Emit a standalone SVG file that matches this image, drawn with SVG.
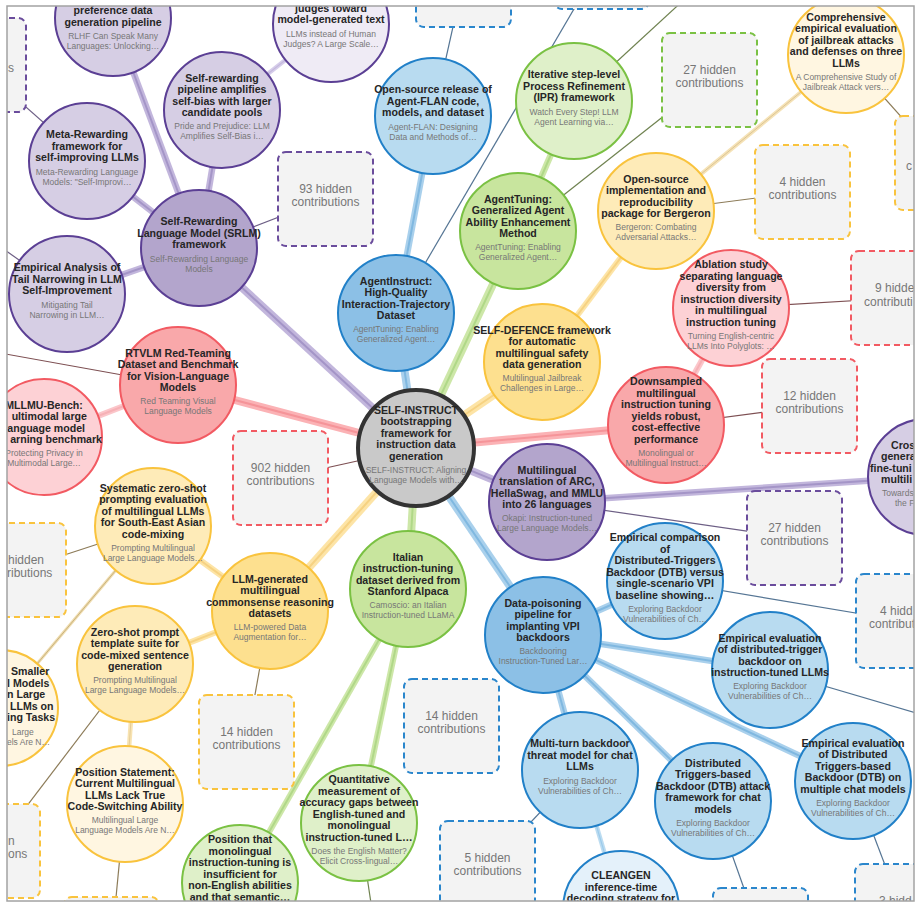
<svg xmlns="http://www.w3.org/2000/svg" width="921" height="909" viewBox="0 0 921 909">
<defs>
<clipPath id="frame"><rect x="7" y="6" width="907" height="895"/></clipPath>
<style>
.t{font-family:'Liberation Sans',Arial,sans-serif;font-weight:bold;font-size:10.6px;fill:#262626;text-anchor:middle}
.s{font-family:'Liberation Sans',Arial,sans-serif;font-size:8.5px;fill:#777;text-anchor:middle}
.h{font-family:'Liberation Sans',Arial,sans-serif;font-size:12px;fill:#777;text-anchor:middle}
.st{text-anchor:start}.en{text-anchor:end}
circle{stroke-width:2}
.c0{fill:#c9c9c9;stroke:#333;stroke-width:4}
.pm{fill:#b3a5cc;stroke:#5b3f94}.pl{fill:#d6cee4;stroke:#5b3f94}.pv{fill:#efebf5;stroke:#5b3f94}
.bm{fill:#8cc0e6;stroke:#2180c8}.bl{fill:#b8dbf0;stroke:#2180c8}.bv{fill:#e4f1fa;stroke:#2180c8}
.gm{fill:#c8e59e;stroke:#7ac143}.gl{fill:#dff0c9;stroke:#7ac143}
.ym{fill:#fde08f;stroke:#f9c33d}.yl{fill:#feebb8;stroke:#f9c33d}.yv{fill:#fff6e1;stroke:#f9c33d}
.rm{fill:#f9a8aa;stroke:#f25a62}.rl{fill:#fdd1d5;stroke:#f25a62}
.box rect{fill:#f3f3f3;stroke-width:2;stroke-dasharray:6 4}
.hp rect{stroke:#6a4c9c}.hb rect{stroke:#2a86cc}.hg rect{stroke:#7ac143}.hy rect{stroke:#f9c33d}.hr rect{stroke:#f25a62}
line{stroke-linecap:butt;fill:none}
.op line{stroke:#c2b6dc}.ip line{stroke:#a495c7;stroke-width:2}
.ob line{stroke:#a9d0ec}.ib line{stroke:#80b8e0;stroke-width:2}
.og line{stroke:#cde7a8}.ig line{stroke:#b0d888;stroke-width:2}
.oy line{stroke:#fde4a6}.iy line{stroke:#f6d282;stroke-width:2}
.or line{stroke:#fbb2b5}.ir line{stroke:#f59499;stroke-width:2}
.thin line{stroke-width:1.2}
.tp line{stroke:#6d5f85}.tb line{stroke:#557594}.tg line{stroke:#6f8250}.ty line{stroke:#8c7b58}.tr line{stroke:#7d4f52}
</style>
</defs>
<rect width="921" height="909" fill="#fff"/>
<g clip-path="url(#frame)">
<g id="connectors">
<g class="op">
<line x1="416" y1="448" x2="199" y2="248" stroke-width="8"/>
<line x1="416" y1="448" x2="547" y2="502" stroke-width="8"/>
<line x1="199" y1="248" x2="113" y2="18" stroke-width="6.5"/>
<line x1="199" y1="248" x2="222" y2="110" stroke-width="6.5"/>
<line x1="199" y1="248" x2="87" y2="161" stroke-width="6.5"/>
<line x1="199" y1="248" x2="67" y2="294" stroke-width="6.5"/>
<line x1="547" y1="502" x2="926" y2="477" stroke-width="6.5"/>
<line x1="222" y1="110" x2="331" y2="24" stroke-width="4.5" style="stroke:#d6cdea"/>
</g>
<g class="ip">
<line x1="416" y1="448" x2="199" y2="248"/>
<line x1="416" y1="448" x2="547" y2="502"/>
<line x1="199" y1="248" x2="113" y2="18"/>
<line x1="199" y1="248" x2="222" y2="110"/>
<line x1="199" y1="248" x2="87" y2="161"/>
<line x1="199" y1="248" x2="67" y2="294"/>
<line x1="547" y1="502" x2="926" y2="477"/>
<line x1="222" y1="110" x2="331" y2="24" style="stroke:#c3b8dc;stroke-width:1.2"/>
</g>
<g class="ob">
<line x1="416" y1="448" x2="396" y2="313" stroke-width="8"/>
<line x1="416" y1="448" x2="543" y2="635" stroke-width="8"/>
<line x1="396" y1="313" x2="433" y2="116" stroke-width="6.5"/>
<line x1="543" y1="635" x2="665" y2="581" stroke-width="6.5"/>
<line x1="543" y1="635" x2="770" y2="670" stroke-width="6.5"/>
<line x1="543" y1="635" x2="853" y2="781" stroke-width="6.5"/>
<line x1="543" y1="635" x2="713" y2="801" stroke-width="6.5"/>
<line x1="543" y1="635" x2="580" y2="770" stroke-width="6.5"/>
<line x1="580" y1="770" x2="621" y2="909" stroke-width="4.5" style="stroke:#bcdcf1"/>
</g>
<g class="ib">
<line x1="416" y1="448" x2="396" y2="313"/>
<line x1="416" y1="448" x2="543" y2="635"/>
<line x1="396" y1="313" x2="433" y2="116"/>
<line x1="543" y1="635" x2="665" y2="581"/>
<line x1="543" y1="635" x2="770" y2="670"/>
<line x1="543" y1="635" x2="853" y2="781"/>
<line x1="543" y1="635" x2="713" y2="801"/>
<line x1="543" y1="635" x2="580" y2="770"/>
<line x1="580" y1="770" x2="621" y2="909" style="stroke:#9ccbeb;stroke-width:1.2"/>
</g>
<g class="og">
<line x1="416" y1="448" x2="518" y2="231" stroke-width="8"/>
<line x1="416" y1="448" x2="408" y2="589" stroke-width="8"/>
<line x1="518" y1="231" x2="574" y2="101" stroke-width="6.5"/>
<line x1="408" y1="589" x2="359" y2="823" stroke-width="6"/>
<line x1="408" y1="589" x2="240" y2="883" stroke-width="6"/>
</g>
<g class="ig">
<line x1="416" y1="448" x2="518" y2="231"/>
<line x1="416" y1="448" x2="408" y2="589"/>
<line x1="518" y1="231" x2="574" y2="101"/>
<line x1="408" y1="589" x2="359" y2="823"/>
<line x1="408" y1="589" x2="240" y2="883"/>
</g>
<g class="oy">
<line x1="416" y1="448" x2="542" y2="362" stroke-width="8"/>
<line x1="416" y1="448" x2="270" y2="611" stroke-width="8"/>
<line x1="542" y1="362" x2="656" y2="211" stroke-width="6"/>
<line x1="270" y1="611" x2="153" y2="526" stroke-width="6"/>
<line x1="270" y1="611" x2="135" y2="664" stroke-width="6"/>
<line x1="656" y1="211" x2="846" y2="55" stroke-width="4" style="stroke:#f5e2b6"/>
<line x1="135" y1="664" x2="125" y2="804" stroke-width="4.5" style="stroke:#f8e3b2"/>
<line x1="153" y1="526" x2="0" y2="708" stroke-width="3" style="stroke:#efdcae"/>
</g>
<g class="iy">
<line x1="416" y1="448" x2="542" y2="362"/>
<line x1="416" y1="448" x2="270" y2="611"/>
<line x1="542" y1="362" x2="656" y2="211"/>
<line x1="270" y1="611" x2="153" y2="526"/>
<line x1="270" y1="611" x2="135" y2="664"/>
<line x1="656" y1="211" x2="846" y2="55" style="stroke:#dcc595;stroke-width:1"/>
<line x1="135" y1="664" x2="125" y2="804" style="stroke:#e4cd98;stroke-width:1"/>
<line x1="153" y1="526" x2="0" y2="708" style="stroke:#c8b27e;stroke-width:1"/>
</g>
<g class="or">
<line x1="416" y1="448" x2="178" y2="385" stroke-width="8"/>
<line x1="416" y1="448" x2="666" y2="425" stroke-width="8"/>
<line x1="178" y1="385" x2="44" y2="437" stroke-width="6" style="stroke:#fbc6ca"/>
<line x1="666" y1="425" x2="731" y2="308" stroke-width="6" style="stroke:#fbc6ca"/>
</g>
<g class="ir">
<line x1="416" y1="448" x2="178" y2="385"/>
<line x1="416" y1="448" x2="666" y2="425"/>
<line x1="178" y1="385" x2="44" y2="437" style="stroke:#f6b1b6"/>
<line x1="666" y1="425" x2="731" y2="308" style="stroke:#f6b1b6"/>
</g>
<g class="thin tp">
<line x1="199" y1="248" x2="325.5" y2="199"/>
<line x1="87" y1="161" x2="-21.5" y2="65"/>
<line x1="67" y1="294" x2="-60" y2="204"/>
<line x1="547" y1="502" x2="794.5" y2="538"/>
</g>
<g class="thin tr">
<line x1="416" y1="448" x2="280.5" y2="478"/>
<line x1="178" y1="385" x2="-100" y2="335"/>
<line x1="731" y1="308" x2="898.5" y2="298"/>
<line x1="666" y1="425" x2="809.5" y2="406"/>
</g>
<g class="thin tb">
<line x1="433" y1="116" x2="463.5" y2="-20"/>
<line x1="396" y1="313" x2="601.5" y2="-38"/>
<line x1="665" y1="581" x2="903.5" y2="621"/>
<line x1="770" y1="670" x2="960" y2="726"/>
<line x1="713" y1="801" x2="760.5" y2="935"/>
<line x1="853" y1="781" x2="902.5" y2="911"/>
<line x1="580" y1="770" x2="487.5" y2="868"/>
</g>
<g class="thin tg">
<line x1="518" y1="231" x2="709.5" y2="80"/>
<line x1="574" y1="101" x2="700" y2="-15"/>
<line x1="359" y1="823" x2="378" y2="950"/>
</g>
<g class="thin ty">
<line x1="656" y1="211" x2="802.5" y2="192"/>
<line x1="846" y1="55" x2="942.5" y2="163"/>
<line x1="153" y1="526" x2="18.5" y2="570"/>
<line x1="270" y1="611" x2="246.5" y2="742"/>
<line x1="135" y1="664" x2="-7.5" y2="851"/>
<line x1="125" y1="804" x2="111.5" y2="944"/>
</g>
</g>

<g id="hidden">
<g id="h1" class="box hp"><rect x="-69" y="18" width="95" height="94" rx="8"/><text class="h st" x="8" y="72">s</text></g>
<g id="h2" class="box hp"><rect x="278" y="152" width="95" height="94" rx="8"/><text class="h" x="325.5" y="193">93 hidden</text><text class="h" x="325.5" y="206">contributions</text></g>
<g id="h3" class="box hb"><rect x="416" y="-67" width="95" height="94" rx="8"/></g>
<g id="h4" class="box hb"><rect x="554" y="-85" width="95" height="94" rx="8"/></g>
<g id="h5" class="box hg"><rect x="662" y="33" width="95" height="94" rx="8"/><text class="h" x="709.5" y="74">27 hidden</text><text class="h" x="709.5" y="87">contributions</text></g>
<g id="h6" class="box hy"><rect x="755" y="145" width="95" height="94" rx="8"/><text class="h" x="802.5" y="186">4 hidden</text><text class="h" x="802.5" y="199">contributions</text></g>
<g id="h7" class="box hy"><rect x="895" y="116" width="95" height="94" rx="8"/><text class="h st" x="906" y="170">c</text></g>
<g id="h8" class="box hr"><rect x="851" y="251" width="95" height="94" rx="8"/><text class="h st" x="875" y="292">9 hidde</text><text class="h st" x="864" y="305.5">contributi</text></g>
<g id="h9" class="box hr"><rect x="762" y="359" width="95" height="94" rx="8"/><text class="h" x="809.5" y="400">12 hidden</text><text class="h" x="809.5" y="413">contributions</text></g>
<g id="h10" class="box hr"><rect x="233" y="431" width="95" height="94" rx="8"/><text class="h" x="280.5" y="472">902 hidden</text><text class="h" x="280.5" y="485">contributions</text></g>
<g id="h11" class="box hp"><rect x="747" y="491" width="95" height="94" rx="8"/><text class="h" x="794.5" y="532">27 hidden</text><text class="h" x="794.5" y="545">contributions</text></g>
<g id="h12" class="box hb"><rect x="856" y="574" width="95" height="94" rx="8"/><text class="h st" x="880" y="615">4 hidd</text><text class="h st" x="869" y="628">contribut</text></g>
<g id="h13" class="box hy"><rect x="-29" y="523" width="95" height="94" rx="8"/><text class="h st" x="8" y="564">hidden</text><text class="h st" x="7" y="577">ributions</text></g>
<g id="h14" class="box hy"><rect x="199" y="695" width="95" height="94" rx="8"/><text class="h" x="246.5" y="736">14 hidden</text><text class="h" x="246.5" y="749">contributions</text></g>
<g id="h15" class="box hy"><rect x="-55" y="804" width="95" height="94" rx="8"/><text class="h st" x="8" y="844.5">n</text><text class="h st" x="8" y="858">ons</text></g>
<g id="h16" class="box hy"><rect x="64" y="897" width="95" height="94" rx="8"/></g>
<g id="h17" class="box hb"><rect x="404" y="679" width="95" height="94" rx="8"/><text class="h" x="451.5" y="720">14 hidden</text><text class="h" x="451.5" y="733">contributions</text></g>
<g id="h18" class="box hb"><rect x="440" y="821" width="95" height="94" rx="8"/><text class="h" x="487.5" y="862">5 hidden</text><text class="h" x="487.5" y="875">contributions</text></g>
<g id="h19" class="box hb"><rect x="713" y="888" width="95" height="94" rx="8"/></g>
<g id="h20" class="box hb"><rect x="855" y="864" width="95" height="94" rx="8"/><text class="h st" x="879" y="905">3 hidd</text></g>
</g>

<g id="n-center" transform="translate(416,448)"><circle r="58" class="c0"/><text class="t" y="-34.2"><tspan x="0">SELF-INSTRUCT</tspan><tspan x="0" dy="11.5">bootstrapping</tspan><tspan x="0" dy="11.5">framework for</tspan><tspan x="0" dy="11.5">instruction data</tspan><tspan x="0" dy="11.5">generation</tspan></text><text class="s" y="25"><tspan x="0">SELF-INSTRUCT: Aligning</tspan><tspan x="0" dy="10">Language Models with…</tspan></text></g>

<g id="n-rlhf" transform="translate(113,18)"><circle r="58" class="pl"/><text class="t" y="-4"><tspan x="0">preference data</tspan><tspan x="0" dy="11.5">generation pipeline</tspan></text><text class="s" y="21"><tspan x="0">RLHF Can Speak Many</tspan><tspan x="0" dy="10">Languages: Unlocking…</tspan></text></g>
<g id="n-judges" transform="translate(331,24)"><circle r="58" class="pv"/><text class="t" y="-12.5"><tspan x="0">judges toward</tspan><tspan x="0" dy="11.5">model-generated text</tspan></text><text class="s" y="12.5"><tspan x="0">LLMs instead of Human</tspan><tspan x="0" dy="10">Judges? A Large Scale…</tspan></text></g>
<g id="n-selfpipe" transform="translate(222,110)"><circle r="58" class="pl"/><text class="t" y="-28.5"><tspan x="0">Self-rewarding</tspan><tspan x="0" dy="11.5">pipeline amplifies</tspan><tspan x="0" dy="11.5">self-bias with larger</tspan><tspan x="0" dy="11.5">candidate pools</tspan></text><text class="s" y="19.2"><tspan x="0">Pride and Prejudice: LLM</tspan><tspan x="0" dy="10">Amplifies Self-Bias i…</tspan></text></g>
<g id="n-meta" transform="translate(87,161)"><circle r="58" class="pl"/><text class="t" y="-22.7"><tspan x="0">Meta-Rewarding</tspan><tspan x="0" dy="11.5">framework for</tspan><tspan x="0" dy="11.5">self-improving LLMs</tspan></text><text class="s" y="13.5"><tspan x="0">Meta-Rewarding Language</tspan><tspan x="0" dy="10">Models: "Self-Improvi…</tspan></text></g>
<g id="n-srlm" transform="translate(199,248)"><circle r="58" class="pm"/><text class="t" y="-22.7"><tspan x="0">Self-Rewarding</tspan><tspan x="0" dy="11.5">Language Model (SRLM)</tspan><tspan x="0" dy="11.5">framework</tspan></text><text class="s" y="13.5"><tspan x="0">Self-Rewarding Language</tspan><tspan x="0" dy="10">Models</tspan></text></g>
<g id="n-tail" transform="translate(67,294)"><circle r="58" class="pl"/><text class="t" y="-22.7"><tspan x="0">Empirical Analysis of</tspan><tspan x="0" dy="11.5">Tail Narrowing in LLM</tspan><tspan x="0" dy="11.5">Self-Improvement</tspan></text><text class="s" y="13.5"><tspan x="0">Mitigating Tail</tspan><tspan x="0" dy="10">Narrowing in LLM…</tspan></text></g>
<g id="n-arc" transform="translate(547,502)"><circle r="58" class="pm"/><text class="t" y="-28.5"><tspan x="0">Multilingual</tspan><tspan x="0" dy="11.5">translation of ARC,</tspan><tspan x="0" dy="11.5">HellaSwag, and MMLU</tspan><tspan x="0" dy="11.5">into 26 languages</tspan></text><text class="s" y="19.2"><tspan x="0">Okapi: Instruction-tuned</tspan><tspan x="0" dy="10">Large Language Models…</tspan></text></g>
<g id="n-cross" transform="translate(926,477)"><circle r="58" class="pl"/><text class="t st" y="-28.5"><tspan x="-35">Cros</tspan><tspan x="-45" dy="11.5">genera</tspan><tspan x="-56" dy="11.5">fine-tuni</tspan><tspan x="-45" dy="11.5">multili</tspan></text><text class="s st" y="19.2"><tspan x="-44">Towards</tspan><tspan x="-31" dy="10">the F</tspan></text></g>

<g id="n-agentflan" transform="translate(433,116)"><circle r="58" class="bl"/><text class="t" y="-22.7"><tspan x="0">Open-source release of</tspan><tspan x="0" dy="11.5">Agent-FLAN code,</tspan><tspan x="0" dy="11.5">models, and dataset</tspan></text><text class="s" y="13.5"><tspan x="0">Agent-FLAN: Designing</tspan><tspan x="0" dy="10">Data and Methods of…</tspan></text></g>
<g id="n-agentinstruct" transform="translate(396,313)"><circle r="58" class="bm"/><text class="t" y="-28.5"><tspan x="0">AgentInstruct:</tspan><tspan x="0" dy="11.5">High-Quality</tspan><tspan x="0" dy="11.5">Interaction-Trajectory</tspan><tspan x="0" dy="11.5">Dataset</tspan></text><text class="s" y="19.2"><tspan x="0">AgentTuning: Enabling</tspan><tspan x="0" dy="10">Generalized Agent…</tspan></text></g>
<g id="n-datapoison" transform="translate(543,635)"><circle r="58" class="bm"/><text class="t" y="-28.5"><tspan x="0">Data-poisoning</tspan><tspan x="0" dy="11.5">pipeline for</tspan><tspan x="0" dy="11.5">implanting VPI</tspan><tspan x="0" dy="11.5">backdoors</tspan></text><text class="s" y="19.2"><tspan x="0">Backdooring</tspan><tspan x="0" dy="10">Instruction-Tuned Lar…</tspan></text></g>
<g id="n-dtbcompare" transform="translate(665,581)"><circle r="58" class="bl"/><text class="t" y="-40"><tspan x="0">Empirical comparison</tspan><tspan x="0" dy="11.5">of</tspan><tspan x="0" dy="11.5">Distributed-Triggers</tspan><tspan x="0" dy="11.5">Backdoor (DTB) versus</tspan><tspan x="0" dy="11.5">single-scenario VPI</tspan><tspan x="0" dy="11.5">baseline showing…</tspan></text><text class="s" y="30.7"><tspan x="0">Exploring Backdoor</tspan><tspan x="0" dy="10">Vulnerabilities of Ch…</tspan></text></g>
<g id="n-dtbeval" transform="translate(770,670)"><circle r="58" class="bl"/><text class="t" y="-28.5"><tspan x="0">Empirical evaluation</tspan><tspan x="0" dy="11.5">of distributed-trigger</tspan><tspan x="0" dy="11.5">backdoor on</tspan><tspan x="0" dy="11.5">instruction-tuned LLMs</tspan></text><text class="s" y="19.2"><tspan x="0">Exploring Backdoor</tspan><tspan x="0" dy="10">Vulnerabilities of Ch…</tspan></text></g>
<g id="n-dtbmulti" transform="translate(853,781)"><circle r="58" class="bl"/><text class="t" y="-34.2"><tspan x="0">Empirical evaluation</tspan><tspan x="0" dy="11.5">of Distributed</tspan><tspan x="0" dy="11.5">Triggers-based</tspan><tspan x="0" dy="11.5">Backdoor (DTB) on</tspan><tspan x="0" dy="11.5">multiple chat models</tspan></text><text class="s" y="25"><tspan x="0">Exploring Backdoor</tspan><tspan x="0" dy="10">Vulnerabilities of Ch…</tspan></text></g>
<g id="n-dtbattack" transform="translate(713,801)"><circle r="58" class="bl"/><text class="t" y="-34.2"><tspan x="0">Distributed</tspan><tspan x="0" dy="11.5">Triggers-based</tspan><tspan x="0" dy="11.5">Backdoor (DTB) attack</tspan><tspan x="0" dy="11.5">framework for chat</tspan><tspan x="0" dy="11.5">models</tspan></text><text class="s" y="25"><tspan x="0">Exploring Backdoor</tspan><tspan x="0" dy="10">Vulnerabilities of Ch…</tspan></text></g>
<g id="n-multiturn" transform="translate(580,770)"><circle r="58" class="bl"/><text class="t" y="-22.7"><tspan x="0">Multi-turn backdoor</tspan><tspan x="0" dy="11.5">threat model for chat</tspan><tspan x="0" dy="11.5">LLMs</tspan></text><text class="s" y="13.5"><tspan x="0">Exploring Backdoor</tspan><tspan x="0" dy="10">Vulnerabilities of Ch…</tspan></text></g>
<g id="n-cleangen" transform="translate(621,909)"><circle r="58" class="bv"/><text class="t" y="-30"><tspan x="0">CLEANGEN</tspan><tspan x="0" dy="11.5">inference-time</tspan><tspan x="0" dy="11.5">decoding strategy for</tspan></text></g>

<g id="n-ipr" transform="translate(574,101)"><circle r="58" class="gl"/><text class="t" y="-22.7"><tspan x="0">Iterative step-level</tspan><tspan x="0" dy="11.5">Process Refinement</tspan><tspan x="0" dy="11.5">(IPR) framework</tspan></text><text class="s" y="13.5"><tspan x="0">Watch Every Step! LLM</tspan><tspan x="0" dy="10">Agent Learning via…</tspan></text></g>
<g id="n-agenttuning" transform="translate(518,231)"><circle r="58" class="gm"/><text class="t" y="-28.5"><tspan x="0">AgentTuning:</tspan><tspan x="0" dy="11.5">Generalized Agent</tspan><tspan x="0" dy="11.5">Ability Enhancement</tspan><tspan x="0" dy="11.5">Method</tspan></text><text class="s" y="19.2"><tspan x="0">AgentTuning: Enabling</tspan><tspan x="0" dy="10">Generalized Agent…</tspan></text></g>
<g id="n-italian" transform="translate(408,589)"><circle r="58" class="gm"/><text class="t" y="-28.5"><tspan x="0">Italian</tspan><tspan x="0" dy="11.5">instruction-tuning</tspan><tspan x="0" dy="11.5">dataset derived from</tspan><tspan x="0" dy="11.5">Stanford Alpaca</tspan></text><text class="s" y="19.2"><tspan x="0">Camoscio: an Italian</tspan><tspan x="0" dy="10">Instruction-tuned LLaMA</tspan></text></g>
<g id="n-quant" transform="translate(359,823)"><circle r="58" class="gl"/><text class="t" y="-40"><tspan x="0">Quantitative</tspan><tspan x="0" dy="11.5">measurement of</tspan><tspan x="0" dy="11.5">accuracy gaps between</tspan><tspan x="0" dy="11.5">English-tuned and</tspan><tspan x="0" dy="11.5">monolingual</tspan><tspan x="0" dy="11.5">instruction-tuned L…</tspan></text><text class="s" y="30.7"><tspan x="0">Does the English Matter?</tspan><tspan x="0" dy="10">Elicit Cross-lingual…</tspan></text></g>
<g id="n-posmono" transform="translate(240,883)"><circle r="58" class="gl"/><text class="t" y="-40"><tspan x="0">Position that</tspan><tspan x="0" dy="11.5">monolingual</tspan><tspan x="0" dy="11.5">instruction-tuning is</tspan><tspan x="0" dy="11.5">insufficient for</tspan><tspan x="0" dy="11.5">non-English abilities</tspan><tspan x="0" dy="11.5">and that semantic…</tspan></text></g>

<g id="n-jailbreak" transform="translate(846,55)"><circle r="58" class="yv"/><text class="t" y="-34.2"><tspan x="0">Comprehensive</tspan><tspan x="0" dy="11.5">empirical evaluation</tspan><tspan x="0" dy="11.5">of jailbreak attacks</tspan><tspan x="0" dy="11.5">and defenses on three</tspan><tspan x="0" dy="11.5">LLMs</tspan></text><text class="s" y="25"><tspan x="0">A Comprehensive Study of</tspan><tspan x="0" dy="10">Jailbreak Attack vers…</tspan></text></g>
<g id="n-bergeron" transform="translate(656,211)"><circle r="58" class="yl"/><text class="t" y="-28.5"><tspan x="0">Open-source</tspan><tspan x="0" dy="11.5">implementation and</tspan><tspan x="0" dy="11.5">reproducibility</tspan><tspan x="0" dy="11.5">package for Bergeron</tspan></text><text class="s" y="19.2"><tspan x="0">Bergeron: Combating</tspan><tspan x="0" dy="10">Adversarial Attacks…</tspan></text></g>
<g id="n-selfdefence" transform="translate(542,362)"><circle r="58" class="ym"/><text class="t" y="-28.5"><tspan x="0">SELF-DEFENCE framework</tspan><tspan x="0" dy="11.5">for automatic</tspan><tspan x="0" dy="11.5">multilingual safety</tspan><tspan x="0" dy="11.5">data generation</tspan></text><text class="s" y="19.2"><tspan x="0">Multilingual Jailbreak</tspan><tspan x="0" dy="10">Challenges in Large…</tspan></text></g>
<g id="n-systematic" transform="translate(153,526)"><circle r="58" class="yl"/><text class="t" y="-34.2"><tspan x="0">Systematic zero-shot</tspan><tspan x="0" dy="11.5">prompting evaluation</tspan><tspan x="0" dy="11.5">of multilingual LLMs</tspan><tspan x="0" dy="11.5">for South-East Asian</tspan><tspan x="0" dy="11.5">code-mixing</tspan></text><text class="s" y="25"><tspan x="0">Prompting Multilingual</tspan><tspan x="0" dy="10">Large Language Models…</tspan></text></g>
<g id="n-llmgen" transform="translate(270,611)"><circle r="58" class="ym"/><text class="t" y="-28.5"><tspan x="0">LLM-generated</tspan><tspan x="0" dy="11.5">multilingual</tspan><tspan x="0" dy="11.5">commonsense reasoning</tspan><tspan x="0" dy="11.5">datasets</tspan></text><text class="s" y="19.2"><tspan x="0">LLM-powered Data</tspan><tspan x="0" dy="10">Augmentation for…</tspan></text></g>
<g id="n-zeroshot" transform="translate(135,664)"><circle r="58" class="yl"/><text class="t" y="-28.5"><tspan x="0">Zero-shot prompt</tspan><tspan x="0" dy="11.5">template suite for</tspan><tspan x="0" dy="11.5">code-mixed sentence</tspan><tspan x="0" dy="11.5">generation</tspan></text><text class="s" y="19.2"><tspan x="0">Prompting Multilingual</tspan><tspan x="0" dy="10">Large Language Models…</tspan></text></g>
<g id="n-smaller" transform="translate(0,708)"><circle r="58" class="yv"/><text class="t st" y="-33"><tspan x="11">Smaller</tspan><tspan x="7" dy="11.5">l Models</tspan><tspan x="7" dy="11.5">n Large</tspan><tspan x="10" dy="11.5">LLMs on</tspan><tspan x="7" dy="11.5">ing Tasks</tspan></text><text class="s st" y="27"><tspan x="12">Large</tspan><tspan x="7" dy="9.5">els Are N…</tspan></text></g>
<g id="n-posstatement" transform="translate(125,804)"><circle r="58" class="yv"/><text class="t" y="-28.5"><tspan x="0">Position Statement:</tspan><tspan x="0" dy="11.5">Current Multilingual</tspan><tspan x="0" dy="11.5">LLMs Lack True</tspan><tspan x="0" dy="11.5">Code-Switching Ability</tspan></text><text class="s" y="19.2"><tspan x="0">Multilingual Large</tspan><tspan x="0" dy="10">Language Models Are N…</tspan></text></g>

<g id="n-rtvlm" transform="translate(178,385)"><circle r="58" class="rm"/><text class="t" y="-28.5"><tspan x="0">RTVLM Red-Teaming</tspan><tspan x="0" dy="11.5">Dataset and Benchmark</tspan><tspan x="0" dy="11.5">for Vision-Language</tspan><tspan x="0" dy="11.5">Models</tspan></text><text class="s" y="19.2"><tspan x="0">Red Teaming Visual</tspan><tspan x="0" dy="10">Language Models</tspan></text></g>
<g id="n-mllmu" transform="translate(44,437)"><circle r="58" class="rl"/><text class="t" y="-28.5" x="0">MLLMU-Bench:</text><text class="t en" y="-17"><tspan x="43">ultimodal large</tspan><tspan x="41" dy="11.5">anguage model</tspan><tspan x="58" dy="11.5">arning benchmark</tspan></text><text class="s" y="19.2"><tspan x="0">Protecting Privacy in</tspan><tspan x="0" dy="10">Multimodal Large…</tspan></text></g>
<g id="n-ablation" transform="translate(731,308)"><circle r="58" class="rl"/><text class="t" y="-40"><tspan x="0">Ablation study</tspan><tspan x="0" dy="11.5">separating language</tspan><tspan x="0" dy="11.5">diversity from</tspan><tspan x="0" dy="11.5">instruction diversity</tspan><tspan x="0" dy="11.5">in multilingual</tspan><tspan x="0" dy="11.5">instruction tuning</tspan></text><text class="s" y="30.7"><tspan x="0">Turning English-centric</tspan><tspan x="0" dy="10">LLMs Into Polyglots: …</tspan></text></g>
<g id="n-downsampled" transform="translate(666,425)"><circle r="58" class="rm"/><text class="t" y="-40"><tspan x="0">Downsampled</tspan><tspan x="0" dy="11.5">multilingual</tspan><tspan x="0" dy="11.5">instruction tuning</tspan><tspan x="0" dy="11.5">yields robust,</tspan><tspan x="0" dy="11.5">cost-effective</tspan><tspan x="0" dy="11.5">performance</tspan></text><text class="s" y="30.7"><tspan x="0">Monolingual or</tspan><tspan x="0" dy="10">Multilingual Instruct…</tspan></text></g>
</g>
<rect x="7" y="6" width="907" height="895" fill="none" stroke="#a3a3a3" stroke-width="1.5"/>
</svg>
